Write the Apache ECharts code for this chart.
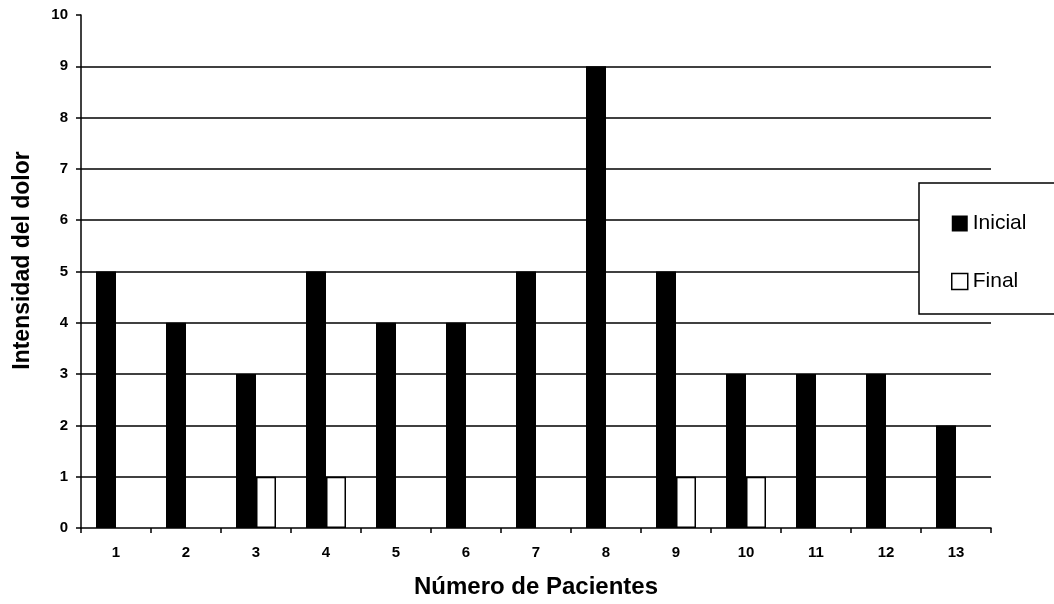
<!DOCTYPE html>
<html>
<head>
<meta charset="utf-8">
<script src="https://cdn.jsdelivr.net/npm/echarts@6/dist/echarts.min.js"></script>
<style>html,body{margin:0;padding:0;background:#fff;}#c{width:1054px;height:604px;}</style>
</head>
<body>
<div id="c"></div>
<script>
const categories = ['1','2','3','4','5','6','7','8','9','10','11','12','13'];
const inicial = [5,4,3,5,4,4,5,9,5,3,3,3,2];
const final_ = [0,0,1,1,0,0,0,0,1,1,0,0,0];
const seriesNames = ['Inicial','Final'];

const chart = echarts.init(document.getElementById('c'));
const F = '"Liberation Sans", Arial, sans-serif';
// zero-height bars are not drawn in the reference
const hideZero = arr => arr.map(v => (v === 0 ? null : v));
chart.setOption({
  backgroundColor: '#fff',
  animation: false,
  grid: { left: 81, right: 63, top: 15, bottom: 73, containLabel: false },
  legend: {
    orient: 'vertical',
    left: 919, top: 183,
    padding: [30, 40, 22, 32],
    itemGap: 37,
    itemWidth: 16, itemHeight: 16,
    backgroundColor: '#fff',
    borderColor: '#000', borderWidth: 1.5,
    textStyle: { fontFamily: F, fontSize: 21, color: '#000' },
    data: [
      { name: 'Inicial', icon: 'rect' },
      { name: 'Final', icon: 'rect', itemStyle: { color: '#fff', borderColor: '#000', borderWidth: 1.5 } }
    ],
    z: 10
  },
  xAxis: {
    type: 'category',
    data: categories,
    name: 'Número de Pacientes',
    nameLocation: 'middle',
    nameGap: 47,
    nameTextStyle: { fontFamily: F, fontSize: 24, fontWeight: 'bold', color: '#000' },
    axisLine: { lineStyle: { color: '#000', width: 1.5 } },
    axisTick: { show: true, length: 5, lineStyle: { color: '#000', width: 1.5 } },
    axisLabel: { fontFamily: F, fontSize: 15, fontWeight: 'bold', color: '#000', margin: 17 },
    splitLine: { show: false }
  },
  yAxis: {
    type: 'value',
    min: 0, max: 10, interval: 1,
    name: 'Intensidad del dolor',
    nameLocation: 'middle',
    nameGap: 47,
    nameTextStyle: { fontFamily: F, fontSize: 23, fontWeight: 'bold', color: '#000', padding: [0, 0, 0, 22] },
    axisLine: { show: true, lineStyle: { color: '#000', width: 1.5 } },
    axisTick: { show: true, length: 5, lineStyle: { color: '#000', width: 1.5 } },
    axisLabel: { fontFamily: F, fontSize: 15, fontWeight: 'bold', color: '#000', margin: 13 },
    splitLine: { show: true, showMinLine: false, showMaxLine: false, lineStyle: { color: '#000', width: 1.5 } }
  },
  series: [
    {
      name: seriesNames[0], type: 'bar', data: hideZero(inicial),
      barWidth: 20, barGap: '0%',
      itemStyle: { color: '#000' }
    },
    {
      name: seriesNames[1], type: 'bar', data: hideZero(final_),
      barWidth: 20, barGap: '0%',
      itemStyle: { color: '#fff', borderColor: '#000', borderWidth: 1.5 }
    }
  ]
});
</script>
</body>
</html>
